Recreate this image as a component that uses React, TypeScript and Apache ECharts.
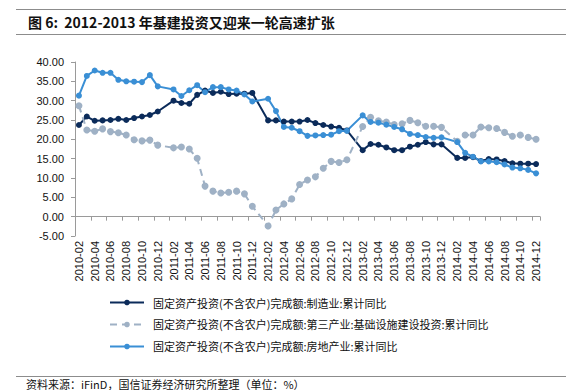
import React, { useEffect, useRef } from "react";
import * as echarts from "echarts";

const months: string[] = [
  "2010-02", "2010-03", "2010-04", "2010-05", "2010-06", "2010-07", "2010-08", "2010-09", "2010-10", "2010-11", "2010-12",
  "2011-01", "2011-02", "2011-03", "2011-04", "2011-05", "2011-06", "2011-07", "2011-08", "2011-09", "2011-10", "2011-11", "2011-12",
  "2012-01", "2012-02", "2012-03", "2012-04", "2012-05", "2012-06", "2012-07", "2012-08", "2012-09", "2012-10", "2012-11", "2012-12",
  "2013-01", "2013-02", "2013-03", "2013-04", "2013-05", "2013-06", "2013-07", "2013-08", "2013-09", "2013-10", "2013-11", "2013-12",
  "2014-01", "2014-02", "2014-03", "2014-04", "2014-05", "2014-06", "2014-07", "2014-08", "2014-09", "2014-10", "2014-11", "2014-12",
];

// 制造业 累计同比 (January has no separate release)
const manufacturing: (number | null)[] = [
  23.7, 25.9, 24.8, 24.9, 25.0, 25.3, 25.0, 25.5, 25.9, 26.3, 27.2,
  null, 30.0, 29.4, 29.2, 31.5, 32.6, 32.0, 32.3, 31.7, 31.8, 31.8, 32.0,
  null, 24.9, 24.9, 24.6, 24.6, 24.6, 25.0, 24.2, 23.7, 23.3, 23.0, 22.3,
  null, 17.2, 18.8, 18.6, 17.9, 17.2, 17.2, 18.1, 18.6, 19.3, 18.7, 18.7,
  null, 15.2, 15.2, 15.4, 14.4, 14.9, 14.8, 14.4, 13.8, 13.7, 13.7, 13.6,
];

// 第三产业:基础设施建设投资 累计同比
const infrastructure: (number | null)[] = [
  28.7, 22.4, 22.1, 22.7, 22.0, 21.7, 21.1, 19.9, 19.6, 19.8, 18.5,
  null, 17.8, 18.0, 17.5, 15.1, 7.9, 6.6, 6.1, 6.3, 6.6, 5.9, 2.7,
  null, -2.4, 1.7, 3.3, 4.6, 8.3, 9.5, 10.3, 12.5, 14.3, 14.0, 14.7,
  null, 23.3, 25.7, 24.8, 24.5, 23.8, 24.0, 24.9, 24.3, 23.4, 23.4, 23.1,
  null, 19.5, 21.1, 21.1, 23.2, 23.0, 22.8, 21.8, 20.8, 21.1, 20.5, 20.0,
];

// 房地产业 累计同比
const realEstate: (number | null)[] = [
  31.3, 36.4, 37.8, 37.2, 37.2, 35.4, 35.0, 34.9, 34.8, 36.6, 33.7,
  null, 32.9, 31.2, 32.7, 34.0, 32.2, 33.5, 33.5, 32.9, 32.6, 31.6, 29.8,
  null, 30.5, 27.3, 23.2, 23.0, 22.1, 20.9, 21.0, 21.1, 21.2, 22.1, 22.2,
  null, 26.2, 24.5, 24.3, 23.8, 23.2, 22.6, 21.4, 21.1, 20.6, 20.4, 20.5,
  null, 19.3, 16.5, 15.5, 14.3, 14.3, 14.1, 13.5, 12.7, 12.5, 12.1, 11.2,
];

const seriesNames = [
  "固定资产投资(不含农户)完成额:制造业:累计同比",
  "固定资产投资(不含农户)完成额:第三产业:基础设施建设投资:累计同比",
  "固定资产投资(不含农户)完成额:房地产业:累计同比",
];

const titleText = "图 6:  2012-2013 年基建投资又迎来一轮高速扩张";
const sourceText = "资料来源：iFinD，国信证券经济研究所整理（单位：%）";

const Y_MIN = -5;
const Y_MAX = 40;
const Y_STEP = 5;

const LATIN = "'Liberation Sans', Arial, sans-serif";
const CJK = "'Noto Sans CJK SC', 'Liberation Sans', sans-serif";

export default function App() {
  const ref = useRef<HTMLDivElement>(null);

  useEffect(() => {
    if (!ref.current) return;
    const chart = echarts.init(ref.current, undefined, { renderer: "svg" });
    const mk = (
      name: string,
      data: (number | null)[],
      color: string,
      dashed: boolean,
      size: number
    ) => ({
      name,
      type: "line",
      xAxisIndex: 0,
      yAxisIndex: 0,
      data,
      connectNulls: true,
      showSymbol: true,
      showAllSymbol: true,
      symbol: "circle",
      symbolSize: size,
      itemStyle: { color },
      lineStyle: { color, width: 2, type: dashed ? [7, 5] : "solid" },
    });

    chart.setOption({
      animation: false,
      backgroundColor: "#ffffff",
      grid: { left: 75, right: 40, top: 62, bottom: 154 },
      legend: {
        orient: "vertical",
        left: 104,
        top: 292,
        itemWidth: 34,
        itemHeight: 7,
        itemGap: 11,
        data: seriesNames,
        textStyle: { fontSize: 11, color: "#111", fontFamily: CJK, padding: [0, 0, 0, 4] },
      },
      xAxis: [
        {
          type: "category",
          data: months,
          boundaryGap: true,
          axisLine: { onZero: true, lineStyle: { color: "#9a9a9a", width: 1 } },
          axisTick: { show: true, interval: 1, length: 4, lineStyle: { color: "#9a9a9a" } },
          axisLabel: { show: false, interval: 1 },
          splitLine: { show: false },
        },
        {
          type: "category",
          data: months,
          boundaryGap: true,
          position: "bottom",
          axisLine: { show: false, onZero: false },
          axisTick: { show: false },
          axisLabel: {
            interval: 1,
            rotate: 90,
            margin: 5,
            fontSize: 11,
            color: "#111",
            fontFamily: LATIN,
          },
          splitLine: { show: false },
        },
      ],
      yAxis: {
        type: "value",
        min: Y_MIN,
        max: Y_MAX,
        interval: Y_STEP,
        axisLine: { show: true, lineStyle: { color: "#9a9a9a" } },
        axisTick: { show: true, length: 4, lineStyle: { color: "#9a9a9a" } },
        axisLabel: {
          formatter: (v: number) => v.toFixed(2),
          fontSize: 11,
          color: "#111",
          margin: 11,
          fontFamily: LATIN,
        },
        splitLine: { show: false },
      },
      series: [
        mk(seriesNames[0], manufacturing, "#0b2b5a", false, 6),
        mk(seriesNames[1], infrastructure, "#9fb1c5", true, 7),
        mk(seriesNames[2], realEstate, "#3a8fd5", false, 6),
      ],
      graphic: [
        { type: "line", shape: { x1: 16, y1: 9.5, x2: 566, y2: 9.5 }, style: { stroke: "#8c8c8c", lineWidth: 1 } },
        { type: "line", shape: { x1: 16, y1: 34.5, x2: 566, y2: 34.5 }, style: { stroke: "#8c8c8c", lineWidth: 1 } },
        {
          type: "text",
          x: 28,
          y: 22,
          style: {
            text: titleText,
            fontSize: 14,
            fontWeight: "bold",
            fontFamily: CJK,
            fill: "#111",
            textVerticalAlign: "middle",
            verticalAlign: "middle",
          },
        },
        { type: "line", shape: { x1: 16, y1: 376.5, x2: 566, y2: 376.5 }, style: { stroke: "#8c8c8c", lineWidth: 1 } },
        {
          type: "text",
          x: 26,
          y: 378,
          style: {
            text: sourceText,
            fontSize: 11,
            fontFamily: CJK,
            fill: "#111",
            verticalAlign: "top",
            textVerticalAlign: "top",
          },
        },
      ],
    });
    return () => chart.dispose();
  }, []);

  return (
    <div
      ref={ref}
      style={{ position: "fixed", left: 0, top: 0, width: 580, height: 390, background: "#fff" }}
    />
  );
}
